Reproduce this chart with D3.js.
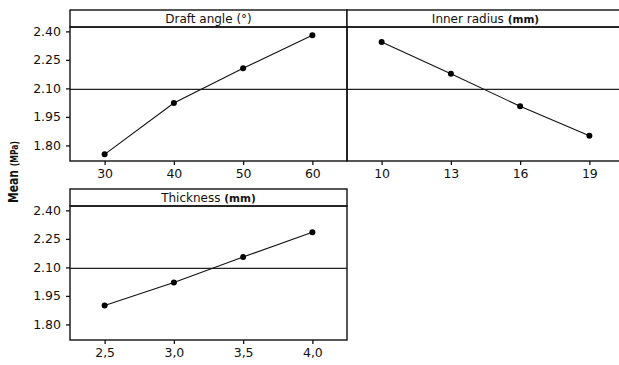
<!DOCTYPE html>
<html>
<head>
<meta charset="utf-8">
<script src="https://cdn.jsdelivr.net/npm/d3@7"></script>
<style>
  body { margin: 0; background: #fff; }
  svg text { font-family: "DejaVu Sans", sans-serif; fill: #111; }
</style>
</head>
<body>
<div id="chart"></div>
<script>
// main effects for mean (MPa)
const factorNames = ["Draft angle", "Inner radius", "Thickness"];
const factorUnits = ["(°)", "(mm)", "(mm)"];

const draftLevels = ["30", "40", "50", "60"];
const draftMeans = [1.753, 2.023, 2.206, 2.379];

const radiusLevels = ["10", "13", "16", "19"];
const radiusMeans = [2.344, 2.177, 2.006, 1.851];

const thickLevels = ["2,5", "3,0", "3,5", "4,0"];
const thickMeans = [1.900, 2.021, 2.155, 2.285];

const yTicks = [1.80, 1.95, 2.10, 2.25, 2.40];
const grandMean = 2.095;

const W = 619, H = 365;
const panelW = 277, stripH = 17, plotH = 134;

const panels = [
  { name: factorNames[0], unit: factorUnits[0], unitBold: false, levels: draftLevels, means: draftMeans, x: 70, y: 10, yAxis: true },
  { name: factorNames[1], unit: factorUnits[1], unitBold: true, levels: radiusLevels, means: radiusMeans, x: 347, y: 10, yAxis: false },
  { name: factorNames[2], unit: factorUnits[2], unitBold: true, levels: thickLevels, means: thickMeans, x: 70, y: 189, yAxis: true }
];

const svg = d3.select("#chart").append("svg")
  .attr("width", W)
  .attr("height", H);

const y = d3.scaleLinear().domain([1.718, 2.423]).range([plotH, 0]);

panels.forEach(p => {
  const g = svg.append("g").attr("transform", `translate(${p.x},${p.y})`);
  const x = d3.scalePoint().domain(p.levels).range([0, panelW]).padding(0.5);

  // strip
  g.append("rect")
    .attr("x", 0).attr("y", 0)
    .attr("width", panelW).attr("height", stripH)
    .attr("fill", "#fff").attr("stroke", "#111").attr("stroke-width", 1.4);

  const title = g.append("text")
    .attr("x", panelW / 2).attr("y", stripH / 2 + 4.5)
    .attr("text-anchor", "middle")
    .style("font-size", "12px");
  title.append("tspan").text(p.name + " ");
  title.append("tspan").text(p.unit)
    .style("font-size", p.unitBold ? "10.5px" : "12px")
    .style("font-weight", p.unitBold ? "bold" : "normal");

  const plot = g.append("g").attr("transform", `translate(0,${stripH})`);

  plot.append("rect")
    .attr("width", panelW).attr("height", plotH)
    .attr("fill", "none").attr("stroke", "#111").attr("stroke-width", 1.4);

  // reference line at overall mean
  plot.append("line")
    .attr("x1", 0).attr("x2", panelW)
    .attr("y1", y(grandMean)).attr("y2", y(grandMean))
    .attr("stroke", "#222").attr("stroke-width", 1.2);

  const pts = p.levels.map((l, i) => ({ l, v: p.means[i] }));

  plot.append("path")
    .datum(pts)
    .attr("fill", "none").attr("stroke", "#111").attr("stroke-width", 1.1)
    .attr("d", d3.line().x(d => x(d.l)).y(d => y(d.v)));

  plot.selectAll("circle")
    .data(pts)
    .enter().append("circle")
    .attr("cx", d => x(d.l)).attr("cy", d => y(d.v))
    .attr("r", 3).attr("fill", "#000");

  const xAx = plot.append("g")
    .attr("transform", `translate(0,${plotH})`)
    .call(d3.axisBottom(x).tickSize(4).tickSizeOuter(0).tickPadding(4));
  xAx.select(".domain").remove();
  xAx.selectAll("line").attr("stroke", "#111").attr("stroke-width", 1.3);
  xAx.selectAll("text").style("font-size", "12.5px").attr("fill", "#111");

  if (p.yAxis) {
    const yAx = plot.append("g")
      .call(d3.axisLeft(y).tickValues(yTicks).tickFormat(d3.format(".2f"))
        .tickSize(4).tickSizeOuter(0).tickPadding(5));
    yAx.select(".domain").remove();
    yAx.selectAll("line").attr("stroke", "#111").attr("stroke-width", 1.3);
    yAx.selectAll("text").style("font-size", "12.5px").attr("fill", "#111");
  }
});

// y axis label
const yl = svg.append("text")
  .attr("transform", "translate(18,172) rotate(-90)")
  .attr("text-anchor", "middle")
  .attr("textLength", 62)
  .attr("lengthAdjust", "spacingAndGlyphs")
  .style("font-family", "'DejaVu Sans Condensed', 'DejaVu Sans', sans-serif")
  .style("font-weight", "bold");
yl.append("tspan").text("Mean ").style("font-size", "14px");
yl.append("tspan").text("(MPa)").style("font-size", "10px");
</script>
</body>
</html>
